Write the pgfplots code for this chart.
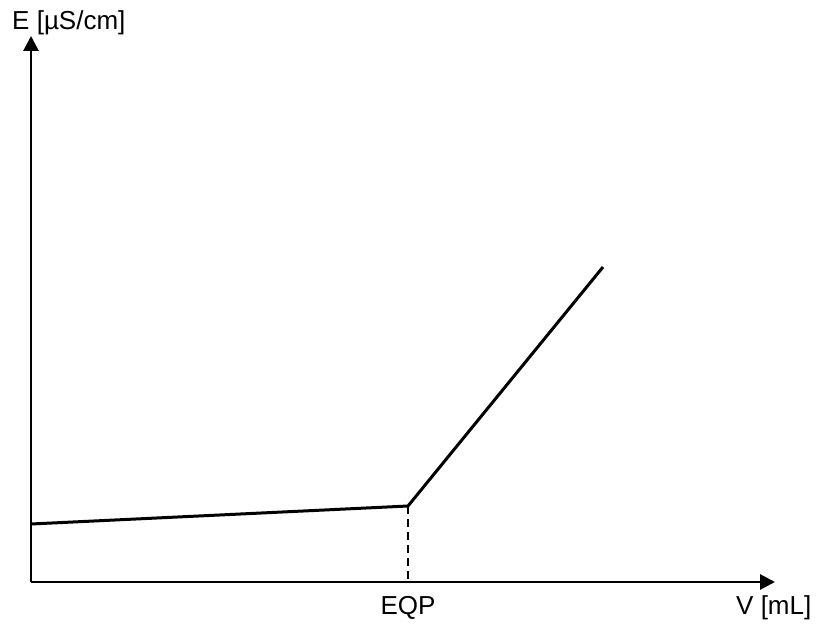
\documentclass[border=0pt]{standalone}
\usepackage{pgfplots}
\pgfplotsset{compat=1.18}
\usepackage{fontspec}
\setmainfont{Liberation Sans}
\usetikzlibrary{arrows.meta}
\begin{document}
\begin{tikzpicture}
\path (0pt,0pt) rectangle (819pt,630pt);
\begin{axis}[
  at={(31pt,48pt)}, anchor=south west,
  scale only axis, width=744pt, height=546pt,
  xmin=0, xmax=744, ymin=0, ymax=546,
  axis lines=left,
  axis line style={-{Triangle[length=15pt,width=15pt]}, line width=2.8pt},
  clip=false,
  font=\fontsize{26}{31}\selectfont,
  xtick={377}, xticklabels={EQP},
  ytick=\empty,
  major tick length=0pt,
  xticklabel style={anchor=base, yshift=-32pt},
  xlabel={V [mL]},
  ylabel={E [µS/cm]},
  xlabel style={at={(axis description cs:0.9476,-0.0604)}, anchor=base west, inner sep=0pt},
  ylabel style={at={(axis description cs:-0.0255,1.0128)}, anchor=base west, rotate=-90, inner sep=0pt},
]
\addplot[black, line width=3pt, line join=miter] coordinates {(0,58) (377,76) (572,315)};
\addplot[black, line width=2.2pt, dash pattern=on 8pt off 5pt] coordinates {(377,76) (377,0)};
\end{axis}
\end{tikzpicture}
\end{document}
